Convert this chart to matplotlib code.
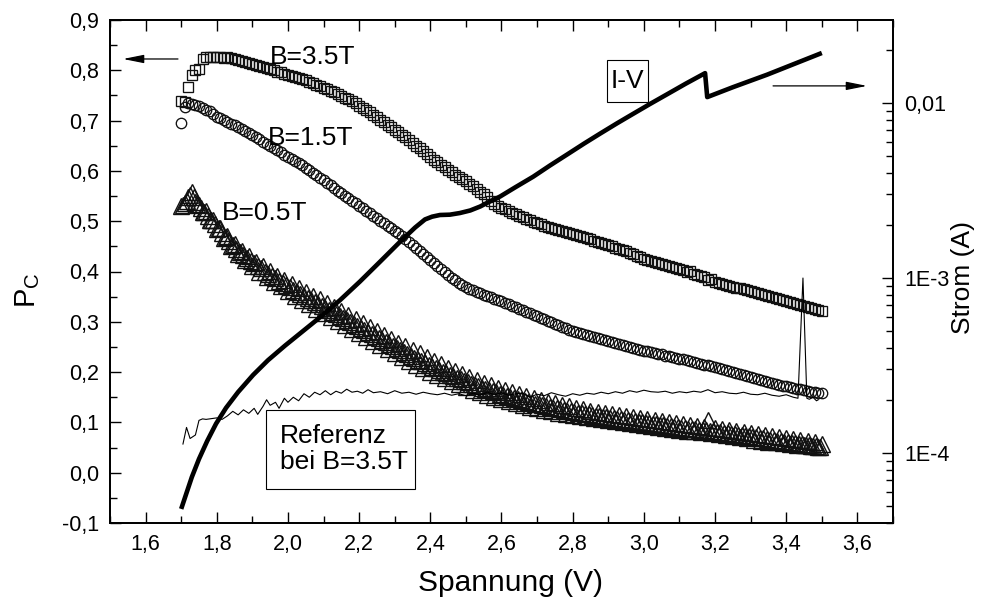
import numpy as np
import matplotlib
matplotlib.use("Agg")
import matplotlib.pyplot as plt
from matplotlib.ticker import FixedLocator, FuncFormatter, MultipleLocator, LogLocator, NullFormatter
from matplotlib.patches import Rectangle

plt.rcParams['font.family'] = ['Liberation Sans', 'DejaVu Sans']
plt.rcParams['mathtext.default'] = 'regular'

# voltage sweep of the polarisation measurements (V)
voltage = np.round(np.arange(1.70, 3.5001, 0.01), 2)
# the 0.5 T run was sampled twice as densely
voltage_half = np.round(np.arange(1.705, 3.4951, 0.01), 3)

# circular polarisation P_C at B = 3.5 T
pc_35 = [
    .738, .737, .767, .790, .800, .803, .822, .826, .827, .826,
    .827, .826, .825, .826, .824, .822, .821, .818, .817, .814,
    .813, .811, .809, .806, .805, .802, .800, .797, .796, .793,
    .791, .789, .787, .785, .782, .780, .777, .775, .771, .769,
    .765, .762, .759, .756, .752, .749, .745, .742, .738, .734,
    .730, .726, .722, .717, .712, .707, .702, .697, .692, .687,
    .682, .677, .672, .667, .661, .656, .650, .645, .639, .634,
    .628, .622, .617, .612, .607, .602, .597, .592, .588, .583,
    .579, .574, .569, .564, .559, .554, .548, .541, .535, .531,
    .527, .524, .520, .517, .514, .511, .508, .505, .502, .499,
    .496, .494, .491, .489, .487, .485, .483, .480, .478, .476,
    .474, .472, .470, .468, .466, .464, .461, .459, .457, .455,
    .452, .450, .447, .445, .442, .440, .437, .434, .431, .428,
    .425, .423, .421, .419, .417, .415, .413, .411, .409, .406,
    .404, .402, .400, .401, .396, .394, .392, .389, .384, .385,
    .380, .378, .376, .374, .372, .370, .368, .367, .365, .363,
    .361, .360, .358, .356, .354, .352, .350, .348, .346, .344,
    .342, .340, .338, .336, .334, .332, .330, .328, .326, .324,
    .321,
]

# circular polarisation P_C at B = 1.5 T
pc_15 = [
    .695, .727, .735, .733, .732, .729, .726, .722, .719, .713,
    .708, .705, .701, .698, .694, .691, .687, .684, .680, .676,
    .672, .667, .663, .658, .654, .649, .645, .641, .637, .632,
    .628, .624, .619, .615, .611, .606, .601, .596, .591, .586,
    .581, .576, .571, .566, .561, .556, .551, .546, .541, .536,
    .531, .526, .521, .516, .511, .506, .501, .496, .491, .486,
    .481, .476, .470, .465, .459, .453, .447, .441, .435, .429,
    .423, .417, .411, .405, .399, .393, .388, .383, .378, .374,
    .370, .366, .363, .360, .357, .354, .351, .349, .346, .344,
    .341, .338, .335, .332, .329, .326, .323, .320, .317, .314,
    .311, .308, .305, .302, .299, .296, .293, .290, .287, .284,
    .281, .279, .277, .275, .273, .271, .269, .267, .265, .263,
    .261, .259, .257, .255, .253, .251, .249, .247, .246, .244,
    .242, .241, .239, .238, .236, .235, .233, .232, .230, .229,
    .227, .226, .224, .222, .221, .219, .217, .215, .214, .212,
    .210, .208, .206, .204, .203, .201, .199, .197, .195, .193,
    .191, .189, .187, .185, .183, .181, .179, .177, .175, .173,
    .172, .170, .169, .167, .166, .164, .163, .161, .160, .159,
    .158,
]

# circular polarisation P_C at B = 0.5 T (full steps)
pc_05 = [
    .530, .536, .548, .558, .538, .532, .518, .520, .503, .502,
    .484, .486, .466, .470, .450, .455, .434, .441, .422, .430,
    .410, .419, .400, .410, .390, .401, .380, .392, .371, .384,
    .362, .376, .352, .368, .344, .360, .335, .352, .326, .345,
    .318, .337, .310, .330, .301, .322, .293, .314, .285, .306,
    .277, .298, .269, .290, .261, .282, .253, .274, .245, .266,
    .237, .258, .230, .251, .222, .244, .215, .237, .208, .230,
    .201, .223, .195, .216, .188, .209, .182, .203, .176, .197,
    .170, .191, .165, .185, .160, .179, .155, .174, .150, .169,
    .146, .164, .142, .160, .138, .156, .134, .152, .131, .148,
    .128, .145, .125, .141, .122, .138, .119, .135, .117, .132,
    .114, .129, .112, .126, .110, .123, .108, .120, .106, .118,
    .104, .116, .102, .114, .100, .112, .098, .110, .096, .108,
    .094, .106, .092, .104, .090, .102, .088, .100, .087, .098,
    .085, .096, .083, .094, .082, .092, .080, .091, .105, .078,
    .089, .076, .087, .074, .085, .072, .083, .070, .081, .068,
    .079, .066, .077, .064, .075, .062, .073, .061, .071, .059,
    .069, .058, .067, .056, .066, .055, .064, .053, .062, .051,
    .058,
]

# circular polarisation P_C at B = 0.5 T (half steps)
pc_05_half = [
    .533, .541, .552, .549, .535, .526, .519, .511, .503, .495,
    .486, .476, .468, .460, .452, .444, .438, .432, .426, .420,
    .416, .410, .406, .400, .396, .391, .387, .382, .378, .373,
    .369, .364, .360, .356, .352, .347, .343, .339, .335, .331,
    .327, .323, .319, .315, .311, .307, .303, .299, .295, .291,
    .287, .283, .279, .275, .271, .267, .263, .259, .255, .251,
    .247, .244, .240, .236, .232, .229, .225, .222, .218, .215,
    .211, .208, .205, .201, .198, .195, .192, .189, .186, .183,
    .180, .177, .175, .172, .169, .167, .164, .162, .160, .157,
    .155, .153, .151, .149, .147, .145, .143, .141, .139, .137,
    .136, .134, .132, .131, .129, .128, .126, .125, .123, .122,
    .121, .119, .118, .117, .116, .114, .113, .112, .111, .110,
    .109, .108, .107, .106, .105, .104, .103, .102, .101, .100,
    .099, .098, .097, .096, .095, .094, .093, .092, .091, .090,
    .089, .088, .087, .087, .086, .085, .084, .084, .083, .082,
    .081, .080, .079, .078, .077, .076, .075, .074, .073, .072,
    .071, .070, .069, .068, .067, .066, .065, .064, .063, .062,
    .061, .060, .059, .058, .057, .056, .055, .054, .053, .052,
]

# reference measurement at B = 3.5 T
ref_v = [1.705, 1.715, 1.725, 1.74, 1.75, 1.76, 1.77, 1.78, 1.79, 1.80,
         1.815, 1.83, 1.845, 1.86, 1.875, 1.89, 1.905, 1.915, 1.93, 1.94,
         1.95, 1.965, 1.975, 1.99, 2.00, 2.015, 2.03, 2.045, 2.06, 2.075,
         2.09, 2.105, 2.12, 2.135, 2.15, 2.165, 2.18, 2.195, 2.21, 2.225,
         2.24, 2.26, 2.28, 2.30, 2.32, 2.34, 2.36, 2.38, 2.40, 2.42,
         2.44, 2.46, 2.48, 2.50, 2.52, 2.54, 2.56, 2.58, 2.60, 2.62,
         2.64, 2.66, 2.68, 2.70, 2.72, 2.74, 2.76, 2.78, 2.80, 2.82,
         2.84, 2.86, 2.88, 2.90, 2.92, 2.94, 2.96, 2.98, 3.00, 3.02,
         3.04, 3.06, 3.08, 3.10, 3.12, 3.14, 3.16, 3.18, 3.20, 3.22,
         3.24, 3.26, 3.28, 3.30, 3.32, 3.34, 3.36, 3.38, 3.40, 3.42,
         3.433, 3.447, 3.458, 3.465, 3.475, 3.485, 3.49]
ref_pc = [.057, .090, .068, .075, .104, .107, .106, .107, .108, .109,
          .106, .113, .122, .115, .125, .118, .128, .116, .132, .145,
          .134, .140, .128, .148, .140, .150, .143, .157, .150, .160,
          .155, .163, .155, .162, .158, .166, .160, .162, .158, .165,
          .159, .161, .157, .163, .158, .160, .156, .160, .157, .155,
          .158, .154, .157, .153, .158, .154, .160, .155, .159, .154,
          .157, .158, .150, .156, .153, .159, .155, .152, .157, .154,
          .158, .156, .160, .157, .161, .158, .163, .160, .164, .161,
          .160, .162, .158, .161, .159, .162, .160, .165, .159, .161,
          .158, .157, .160, .156, .155, .158, .154, .152, .155, .150,
          .148, .387, .148, .146, .150, .143, .145]

# current-voltage characteristic (right axis), current in A
iv_v = [1.700, 1.714, 1.730, 1.750, 1.773, 1.798, 1.826, 1.860, 1.902, 1.944,
        1.992, 2.034, 2.090, 2.146, 2.202, 2.259, 2.315, 2.357, 2.385, 2.405,
        2.427, 2.455, 2.483, 2.512, 2.540, 2.568, 2.596, 2.638, 2.689, 2.736,
        2.784, 2.832, 2.877, 2.925, 2.970, 3.017, 3.065, 3.118, 3.172, 3.178,
        3.250, 3.346, 3.500]
iv_i = [4.79e-5, 5.83e-5, 7.29e-5, 9.24e-5, 1.17e-4, 1.47e-4, 1.81e-4, 2.23e-4,
        2.79e-4, 3.39e-4, 4.11e-4, 4.82e-4, 5.96e-4, 7.46e-4, 9.53e-4, 1.24e-3,
        1.61e-3, 1.94e-3, 2.16e-3, 2.24e-3, 2.29e-3, 2.30e-3, 2.35e-3, 2.43e-3,
        2.56e-3, 2.74e-3, 2.92e-3, 3.29e-3, 3.79e-3, 4.39e-3, 5.07e-3, 5.86e-3,
        6.68e-3, 7.66e-3, 8.67e-3, 9.86e-3, 1.12e-2, 1.29e-2, 1.48e-2, 1.08e-2,
        1.23e-2, 1.45e-2, 1.93e-2]

x_ticks = [1.6, 1.8, 2.0, 2.2, 2.4, 2.6, 2.8, 3.0, 3.2, 3.4, 3.6]
y_ticks = [-0.1, 0.0, 0.1, 0.2, 0.3, 0.4, 0.5, 0.6, 0.7, 0.8, 0.9]
cur_ticks = [1e-4, 1e-3, 1e-2]
cur_labels = ['1E-4', '1E-3', '0,01']

fig = plt.figure(figsize=(9.85, 6.04), dpi=100)
ax = fig.add_axes([110 / 985, 1 - 523 / 604, 783 / 985, 503 / 604])
ax2 = ax.twinx()

# merge the two halves of the 0.5 T sweep in voltage order
v05 = np.concatenate([voltage, voltage_half])
p05 = np.concatenate([pc_05, pc_05_half])
order = np.argsort(v05, kind='stable')

mk = dict(linestyle='none', markerfacecolor='none', markeredgecolor='#111111')
ax.plot(v05[order], p05[order], marker='^', markersize=12,
        markeredgewidth=1.0, **mk)
ax.plot(voltage, pc_15, marker='o', markersize=7.5, markeredgewidth=0.95, **mk)
ax.plot(voltage, pc_35, marker='s', markersize=6.8, markeredgewidth=0.95, **mk)
ax.plot(ref_v, ref_pc, color='black', linewidth=0.8)

ax2.semilogy(iv_v, iv_i, color='black', linewidth=3.3, solid_capstyle='butt',
             solid_joinstyle='round')

ax.set_xlim(1.5, 3.7)
ax.set_ylim(-0.1, 0.9)
ax2.set_ylim(10 ** -4.4, 10 ** -1.526)

comma = FuncFormatter(lambda v, p: f'{v:.1f}'.replace('.', ','))
ax.xaxis.set_major_locator(FixedLocator(x_ticks))
ax.xaxis.set_minor_locator(MultipleLocator(0.1))
ax.yaxis.set_major_locator(FixedLocator(y_ticks))
ax.yaxis.set_minor_locator(MultipleLocator(0.05))
ax.xaxis.set_major_formatter(comma)
ax.yaxis.set_major_formatter(comma)

ax2.yaxis.set_major_locator(FixedLocator(cur_ticks))
ax2.yaxis.set_major_formatter(FuncFormatter(
    lambda v, p: dict(zip(cur_ticks, cur_labels)).get(v, '')))
ax2.yaxis.set_minor_locator(LogLocator(base=10, subs=np.arange(2, 10)))
ax2.yaxis.set_minor_formatter(NullFormatter())

for a in (ax, ax2):
    for s in a.spines.values():
        s.set_linewidth(1.3)
ax.tick_params(which='both', direction='in', top=True, right=False,
               labelsize=15.5, width=1.0, pad=8)
ax.tick_params(which='major', length=8)
ax.tick_params(which='minor', length=5)
ax2.tick_params(which='both', direction='in', labelsize=15.5, width=1.0, pad=8)
ax2.tick_params(which='major', length=8)
ax2.tick_params(which='minor', length=5)

fig.text(511 / 985, 1 - 583 / 604, 'Spannung (V)', fontsize=21.5,
         ha='center', va='center')
fig.text(28 / 985, 1 - 290 / 604, r'P$_C$', fontsize=21, rotation=90,
         ha='center', va='center')
fig.text(963 / 985, 1 - 278 / 604, 'Strom (A)', fontsize=19, rotation=90,
         ha='center', va='center')

ax.text(1.95, 0.826, 'B=3.5T', fontsize=19, ha='left', va='center')
ax.text(1.944, 0.665, 'B=1.5T', fontsize=19, ha='left', va='center')
ax.text(1.815, 0.516, 'B=0.5T', fontsize=19, ha='left', va='center')

box = dict(transform=ax.transData, facecolor='white', edgecolor='black',
           linewidth=0.8, zorder=3)
ax2.add_patch(Rectangle((1.938, -0.032), 0.419, 0.157, **box))
ax2.text(1.978, 0.047, 'Referenz\nbei B=3.5T', transform=ax.transData,
         fontsize=19, ha='left', va='center', linespacing=1.1, zorder=4)
ax2.add_patch(Rectangle((2.896, 0.737), 0.116, 0.083, **box))
ax2.text(2.954, 0.778, 'I-V', transform=ax.transData, fontsize=19,
         ha='center', va='center', zorder=4)

arrow = dict(arrowstyle='-|>,head_length=0.9,head_width=0.18', color='black',
             linewidth=0.9, mutation_scale=14, shrinkA=0, shrinkB=0)
ax2.annotate('', xy=(1.5365, 0.8225), xytext=(1.691, 0.8225),
             xycoords=ax.transData, textcoords=ax.transData, arrowprops=arrow)
ax2.annotate('', xy=(3.627, 0.769), xytext=(3.363, 0.769),
             xycoords=ax.transData, textcoords=ax.transData, arrowprops=arrow)

fig.savefig('out.png', dpi=100)
